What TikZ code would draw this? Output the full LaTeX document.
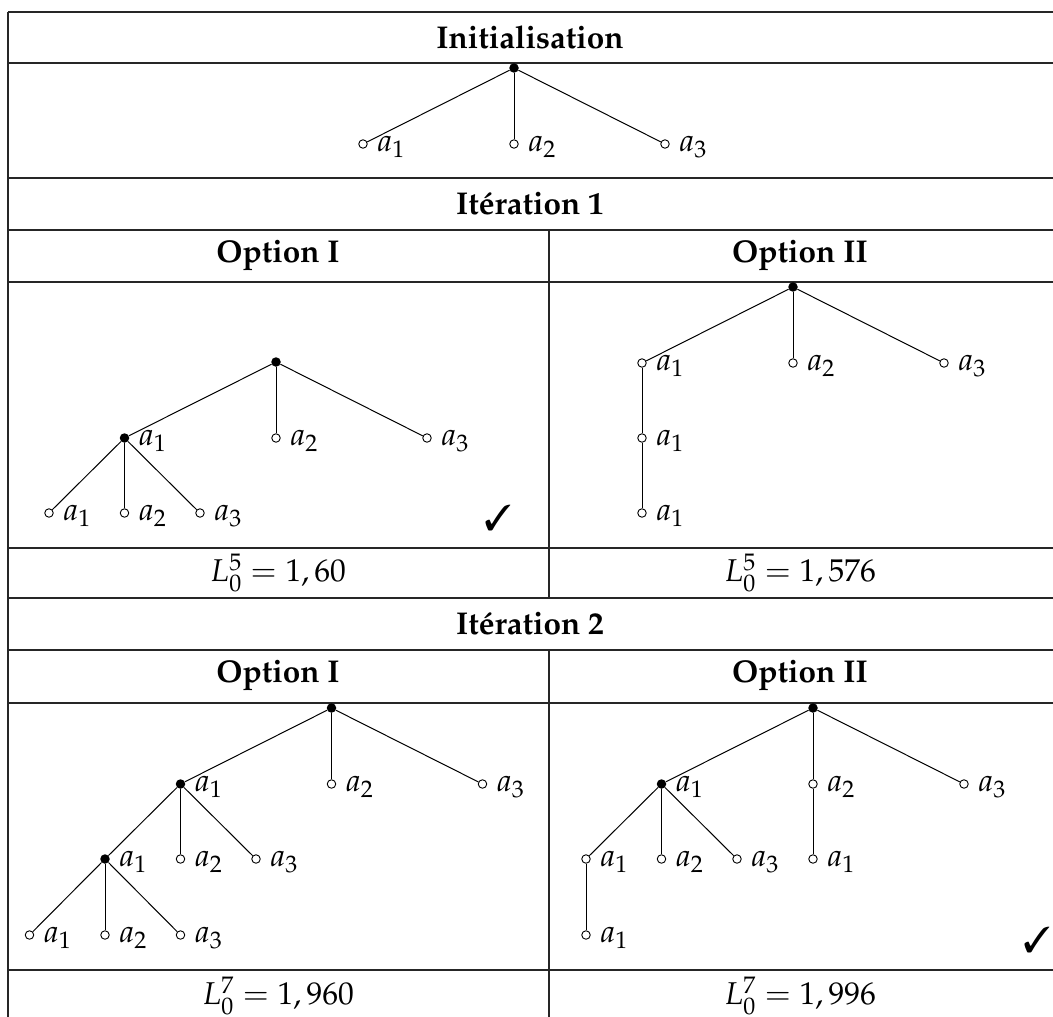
\documentclass[tikz,border=0pt]{standalone}
\usepackage[T1]{fontenc}
\usepackage{mathpazo}
\usepackage{pifont}
\newcommand\tnode[5]{%
  \node[#1] (#2) at (#3) {};
  \node[lbl] (#2-l) at ([xshift=14pt,yshift=-7.5pt]#2.center) {$#4_{#5}$};}
\begin{document}
\begin{tikzpicture}[x=1pt,y=-1pt,
  font=\fontsize{31.5}{38}\selectfont,
  rule/.style={line width=1.1pt, black!85},
  edge/.style={line width=1pt},
  open/.style={circle, draw, fill=white, inner sep=0pt, minimum size=8.5pt, line width=0.9pt},
  full/.style={circle, fill=black, inner sep=0pt, minimum size=9.5pt},
  lbl/.style={anchor=base west, inner sep=0pt},
  title/.style={font=\fontsize{31.5}{38}\selectfont\bfseries, inner sep=0pt},
  val/.style={inner sep=0pt},
  tick/.style={inner sep=0pt, font=\fontsize{36}{40}\selectfont}]
\useasboundingbox (0,0) rectangle (1053,1017);
\clip (0,0) rectangle (1053,1017);
% ---- table rules
\foreach \yy in {12,63,178,230,282,548,598,650,703,970}
  \draw[rule] (8,\yy) -- (1060,\yy);
\draw[rule] (8,12) -- (8,1030);
\draw[rule] (549,230) -- (549,598);
\draw[rule] (549,650) -- (549,1030);
% ---- titles
\node[title] (tInit) at (530,37) {Initialisation};
\node[title] (tIt1) at (530,203.5) {It\'eration 1};
\node[title] (tO1a) at (278,255.5) {Option I};
\node[title] (tO2a) at (800,255.5) {Option II};
\node[title] (tIt2) at (530,623.5) {It\'eration 2};
\node[title] (tO1b) at (278,676) {Option I};
\node[title] (tO2b) at (800,676) {Option II};
% ---- values
\node[val] (v1) at (278,573) {$L_0^5 = 1,60$};
\node[val] (v2) at (800,573) {$L_0^5 = 1,576$};
\node[val] (v3) at (278,996) {$L_0^7 = 1,960$};
\node[val] (v4) at (800,996) {$L_0^7 = 1,996$};
% ---- check marks
\node[tick] (ck1) at (498,518) {\ding{51}};
\node[tick] (ck2) at (1037,940) {\ding{51}};
% ---- Initialisation tree
\node[full] (i0) at (514,68) {};
\tnode{open}{i1}{363,144}{a}{1}
\tnode{open}{i2}{514,144}{a}{2}
\tnode{open}{i3}{665,144}{a}{3}
\draw[edge] (i0) -- (i1); \draw[edge] (i0) -- (i2); \draw[edge] (i0) -- (i3);
% ---- Iteration 1, option I
\node[full] (p0) at (276,362) {};
\tnode{full}{p1}{124.5,438}{a}{1}
\tnode{open}{p2}{276,438}{a}{2}
\tnode{open}{p3}{427,438}{a}{3}
\tnode{open}{p11}{49,513}{a}{1}
\tnode{open}{p12}{124.5,513}{a}{2}
\tnode{open}{p13}{200,513}{a}{3}
\draw[edge] (p0) -- (p1); \draw[edge] (p0) -- (p2); \draw[edge] (p0) -- (p3);
\draw[edge] (p1) -- (p11); \draw[edge] (p1) -- (p12); \draw[edge] (p1) -- (p13);
% ---- Iteration 1, option II
\node[full] (q0) at (793,287) {};
\tnode{open}{q1}{642,363}{a}{1}
\tnode{open}{q2}{793,363}{a}{2}
\tnode{open}{q3}{944,363}{a}{3}
\tnode{open}{q11}{642,438}{a}{1}
\tnode{open}{q111}{642,513}{a}{1}
\draw[edge] (q0) -- (q1); \draw[edge] (q0) -- (q2); \draw[edge] (q0) -- (q3);
\draw[edge] (q1) -- (q11); \draw[edge] (q11) -- (q111);
% ---- Iteration 2, option I
\node[full] (r0) at (331.5,708) {};
\tnode{full}{r1}{180.5,784}{a}{1}
\tnode{open}{r2}{331.5,784}{a}{2}
\tnode{open}{r3}{482.5,784}{a}{3}
\tnode{full}{r11}{105,859}{a}{1}
\tnode{open}{r12}{180.5,859}{a}{2}
\tnode{open}{r13}{256,859}{a}{3}
\tnode{open}{r111}{29.5,935}{a}{1}
\tnode{open}{r112}{105,935}{a}{2}
\tnode{open}{r113}{180.5,935}{a}{3}
\draw[edge] (r0) -- (r1); \draw[edge] (r0) -- (r2); \draw[edge] (r0) -- (r3);
\draw[edge] (r1) -- (r11); \draw[edge] (r1) -- (r12); \draw[edge] (r1) -- (r13);
\draw[edge] (r11) -- (r111); \draw[edge] (r11) -- (r112); \draw[edge] (r11) -- (r113);
% ---- Iteration 2, option II
\node[full] (s0) at (813,708) {};
\tnode{full}{s1}{661.5,784}{a}{1}
\tnode{open}{s2}{813,784}{a}{2}
\tnode{open}{s3}{964,784}{a}{3}
\tnode{open}{s11}{586,859}{a}{1}
\tnode{open}{s12}{661.5,859}{a}{2}
\tnode{open}{s13}{737,859}{a}{3}
\tnode{open}{s21}{813,859}{a}{1}
\tnode{open}{s111}{586,935}{a}{1}
\draw[edge] (s0) -- (s1); \draw[edge] (s0) -- (s2); \draw[edge] (s0) -- (s3);
\draw[edge] (s1) -- (s11); \draw[edge] (s1) -- (s12); \draw[edge] (s1) -- (s13);
\draw[edge] (s2) -- (s21); \draw[edge] (s11) -- (s111);
\end{tikzpicture}
\end{document}
